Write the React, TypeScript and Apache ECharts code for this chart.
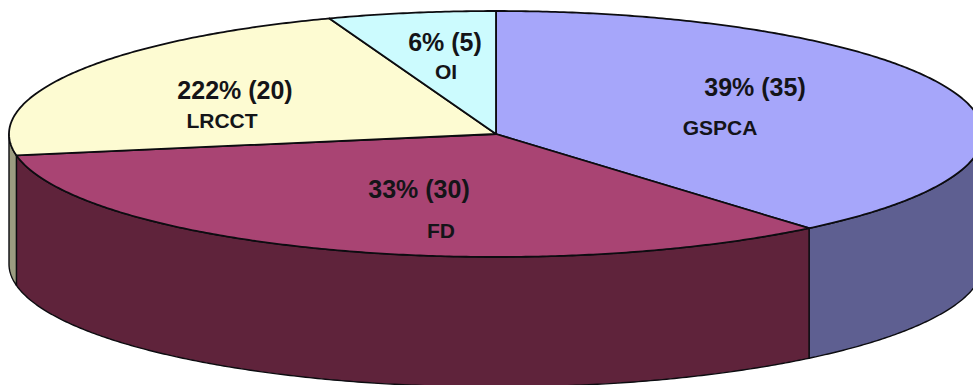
import React, { useEffect, useRef } from "react";
import * as echarts from "echarts";

// Slice data, clockwise from twelve o'clock
const categories = ["GSPCA", "FD", "LRCCT", "OI"];
const counts = [35, 30, 20, 5];
const shareLabels = ["39% (35)", "33% (30)", "222% (20)", "6% (5)"];

const topColors = ["#a6a6fa", "#a94473", "#fdfbd2", "#ccfbfe"];
const sideColors = ["#5e5f91", "#5f233b", "#9b9c80", "#6a8a8c"];

// Label anchors: [value x, value y, name x, name y]
const labelAnchors = [
  [755, 87, 720, 127],
  [419, 189, 441, 230],
  [235, 90, 222, 120],
  [445, 42, 446, 71],
];

// Projected disc geometry
const CX = 496;
const CY = 134;
const RX = 487;
const RY = 123;
const DEPTH = 130;
const STEP = Math.PI / 360;

const rimPoint = (angle: number, drop = 0): number[] => [
  CX + RX * Math.sin(angle),
  CY - RY * Math.cos(angle) + drop,
];

const arcPoints = (from: number, to: number, drop = 0): number[][] => {
  const pts: number[][] = [];
  for (let a = from; a < to; a += STEP) pts.push(rimPoint(a, drop));
  pts.push(rimPoint(to, drop));
  return pts;
};

const total = counts.reduce((sum, v) => sum + v, 0);

const renderSlice = (params: any, api: any) => {
  const i = params.dataIndex;
  const before = counts.slice(0, i).reduce((sum, v) => sum + v, 0);
  const start = (before / total) * Math.PI * 2;
  const end = start + (api.value(0) / total) * Math.PI * 2;

  const children: any[] = [];

  // The wall is only visible on the front half of the disc
  const wallFrom = Math.max(start, Math.PI / 2);
  const wallTo = Math.min(end, (Math.PI * 3) / 2);
  if (wallFrom < wallTo) {
    children.push({
      type: "polygon",
      z2: 1,
      shape: {
        points: [
          ...arcPoints(wallFrom, wallTo),
          ...arcPoints(wallFrom, wallTo, DEPTH).reverse(),
        ],
      },
      style: {
        fill: sideColors[i],
        stroke: "#0c0c10",
        lineWidth: 1.4,
        lineJoin: "round",
      },
    });
  }

  children.push({
    type: "polygon",
    z2: 2,
    shape: { points: [[CX, CY], ...arcPoints(start, end)] },
    style: {
      fill: topColors[i],
      stroke: "#0c0c10",
      lineWidth: 1.8,
      lineJoin: "round",
    },
  });

  return { type: "group", children };
};

const labelText = (text: string, x: number, y: number, size: number) => ({
  type: "text",
  x,
  y,
  z: 10,
  style: {
    text,
    fill: "#141418",
    font: `bold ${size}px "Liberation Sans", Arial, sans-serif`,
    textAlign: "center",
    textVerticalAlign: "middle",
  },
});

export default function App() {
  const ref = useRef<HTMLDivElement>(null);

  useEffect(() => {
    document.body.style.margin = "0";
    const chart = echarts.init(ref.current!, null, { renderer: "svg" });
    chart.setOption({
      animation: false,
      backgroundColor: "#ffffff",
      series: [
        {
          type: "custom",
          coordinateSystem: "none",
          silent: true,
          clip: false,
          data: counts.map((value, i) => ({ name: categories[i], value: [value] })),
          renderItem: renderSlice,
        },
      ],
      graphic: {
        elements: categories.flatMap((name, i) => {
          const [vx, vy, nx, ny] = labelAnchors[i];
          return [
            labelText(shareLabels[i], vx, vy, 25),
            labelText(name, nx, ny, 21),
          ];
        }),
      },
    });
    return () => chart.dispose();
  }, []);

  return <div ref={ref} style={{ width: 973, height: 385, overflow: "hidden" }} />;
}
